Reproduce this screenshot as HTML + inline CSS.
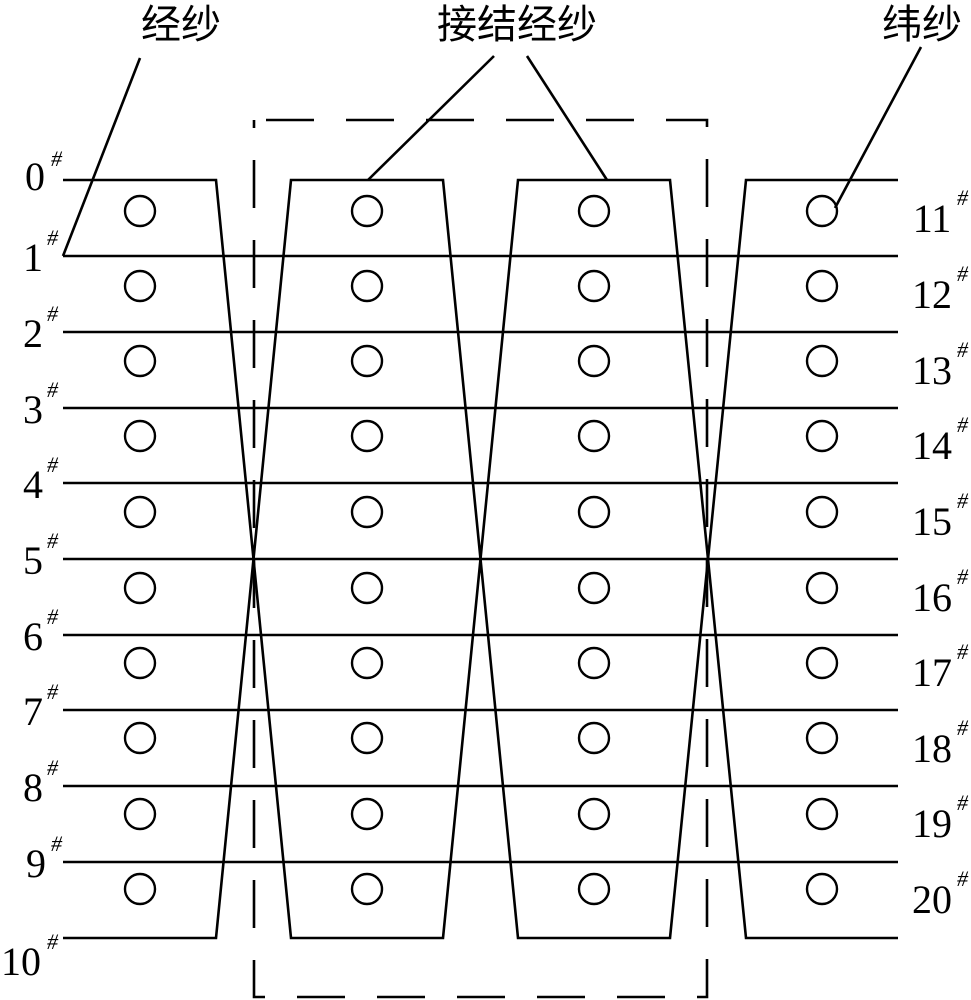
<!DOCTYPE html>
<html><head><meta charset="utf-8"><style>
html,body{margin:0;padding:0;background:#fff;}
svg{display:block;}
text{font-family:"Liberation Serif","Noto Serif CJK SC",serif;fill:#000;}
.cjk{font-family:"Noto Sans CJK SC","WenQuanYi Zen Hei",sans-serif;}
</style></head><body>
<svg width="971" height="1000" viewBox="0 0 971 1000" xmlns="http://www.w3.org/2000/svg">
<g stroke="#000" stroke-width="2.6" fill="none">
<line x1="63" y1="256" x2="898" y2="256"/>
<line x1="63" y1="332" x2="898" y2="332"/>
<line x1="63" y1="408" x2="898" y2="408"/>
<line x1="63" y1="483" x2="898" y2="483"/>
<line x1="63" y1="559" x2="898" y2="559"/>
<line x1="63" y1="635" x2="898" y2="635"/>
<line x1="63" y1="710" x2="898" y2="710"/>
<line x1="63" y1="786" x2="898" y2="786"/>
<line x1="63" y1="862" x2="898" y2="862"/>
<polyline points="63,180 216,180 291,938 443,938 518,180 670,180 746,938 898,938"/>
<polyline points="63,938 216,938 291,180 443,180 518,938 670,938 746,180 898,180"/>
<line x1="63" y1="256" x2="140" y2="58"/>
<line x1="368" y1="180" x2="494" y2="56"/>
<line x1="607" y1="180" x2="527" y2="56"/>
<line x1="835" y1="208" x2="921" y2="47"/>
<path d="M254,120 H707 V997 H254 Z" stroke-dasharray="48 32" stroke-dashoffset="-12"/>
</g>
<g stroke="#000" stroke-width="2.4" fill="none">
<g id="col">
<circle cx="140" cy="211" r="15"/><circle cx="140" cy="286" r="15"/><circle cx="140" cy="361" r="15"/><circle cx="140" cy="436" r="15"/><circle cx="140" cy="512" r="15"/><circle cx="140" cy="588" r="15"/><circle cx="140" cy="663" r="15"/><circle cx="140" cy="738" r="15"/><circle cx="140" cy="814" r="15"/><circle cx="140" cy="889" r="15"/>
</g>
<use href="#col" x="227"/><use href="#col" x="454"/><use href="#col" x="682"/>
</g>
<g font-size="40" text-anchor="middle">
<text x="35" y="190">0</text><text x="33" y="271">1</text><text x="33" y="347">2</text><text x="33" y="423">3</text><text x="33" y="498">4</text><text x="33" y="574">5</text><text x="33" y="650">6</text><text x="33" y="725">7</text><text x="33" y="801">8</text><text x="36" y="877">9</text><text x="21" y="975">10</text>
<text x="932" y="232">11</text><text x="932" y="308">12</text><text x="932" y="384">13</text><text x="932" y="459">14</text><text x="932" y="535">15</text><text x="932" y="611">16</text><text x="932" y="686">17</text><text x="932" y="762">18</text><text x="932" y="837">19</text><text x="932" y="913">20</text>
</g>
<g font-size="22" font-style="italic">
<text x="51" y="166">#</text><text x="47" y="245">#</text><text x="47" y="321">#</text><text x="47" y="397">#</text><text x="47" y="472">#</text><text x="47" y="548">#</text><text x="47" y="624">#</text><text x="47" y="699">#</text><text x="47" y="775">#</text><text x="51" y="851">#</text><text x="47" y="949">#</text>
<text x="957" y="205">#</text><text x="957" y="281">#</text><text x="957" y="357">#</text><text x="957" y="432">#</text><text x="957" y="508">#</text><text x="957" y="584">#</text><text x="957" y="659">#</text><text x="957" y="735">#</text><text x="957" y="810">#</text><text x="957" y="886">#</text>
</g>
<g font-size="40">
<text class="cjk" x="141" y="38">经纱</text>
<text class="cjk" x="437" y="38">接结经纱</text>
<text class="cjk" x="882" y="38">纬纱</text>
</g>
</svg>
</body></html>
